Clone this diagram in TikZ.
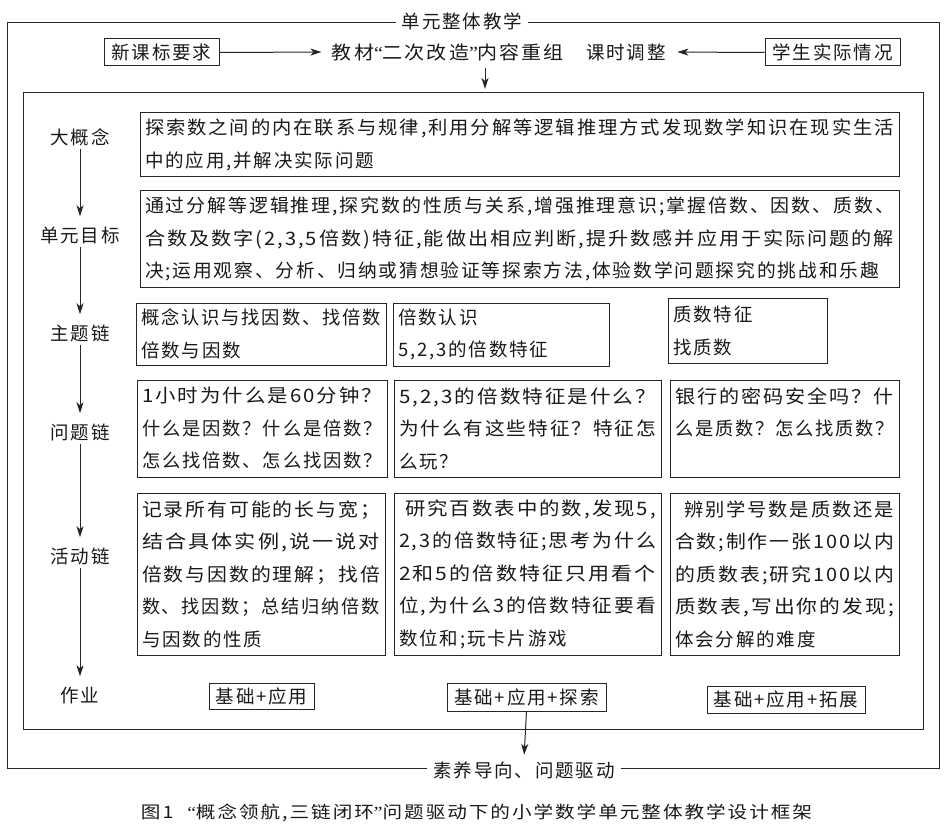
\documentclass[tikz,border=0pt]{standalone}
\usepackage{fontspec}
\setmainfont{Noto Sans CJK SC}[LetterSpace=10]
\newfontfamily\qf{Liberation Serif}
\usetikzlibrary{arrows.meta}
\newcommand{\fl}[2]{\resizebox{#1pt}{\height}{#2}}
\newcommand{\myLq}{{\qf “}}
\newcommand{\myRq}{{\qf ”}}
\newcommand{\bodysize}{\fontsize{18.5}{32.5}\selectfont}
\begin{document}
\begin{tikzpicture}[x=1pt,y=-1pt,
  every node/.style={font=\bodysize, text=black!90},
  frame/.style={line width=1pt, draw=black!85},
  arr/.style={line width=1pt, draw=black!85, -{Stealth[length=11pt,width=7pt,inset=3pt]}},
  bx/.style={draw=black!85, line width=1pt, inner xsep=5pt, inner ysep=0pt, align=left},
  lab/.style={inner sep=2pt},
  hw/.style={draw=black!85, line width=1pt, inner sep=0pt},
  ttl/.style={fill=white, inner xsep=6pt}]
\useasboundingbox (0,0) rectangle (947,834);
% frames
\draw[frame] (7,23) rectangle (939,768);
\draw[frame] (23,93) rectangle (923,729);
\node[ttl] (title) at (462,21) {单元整体教学};
\node[ttl] (goal) at (524,770) {素养导向、问题驱动};
% top row
\node[hw, minimum width=115, minimum height=27] (req) at (161.5,52.5) {新课标要求};
\node (mat) at (448,52) {\fl{232}{教材\myLq 二次改造\myRq 内容重组}};
\node (adj) at (626,52) {课时调整};
\node[hw, minimum width=135, minimum height=27] (stu) at (832.5,52.5) {学生实际情况};
\draw[arr, shorten >=7pt] (req.east) -- (mat.west);
\draw[arr, shorten >=8pt] (stu.west) -- (adj.east);
\coordinate (dtop) at (485,68);
\coordinate (dbot) at (485,89);
\draw[arr] (dtop) -- (dbot);
% labels
\node[lab] (l1) at (80,137) {大概念};
\node[lab] (l2) at (80,235) {单元目标};
\node[lab] (l3) at (80,333) {主题链};
\node[lab] (l4) at (80,432) {问题链};
\node[lab] (l5) at (80,556) {活动链};
\node[lab] (l6) at (80,695) {作业};
\foreach \a/\b in {l1/l2,l2/l3,l3/l4,l4/l5,l5/l6}
  \draw[arr, shorten <=1pt, shorten >=8pt] (\a.south) -- (\b.north);
% big concept
\node[bx, text width=749pt, minimum height=64] (A) at (519.5,145)
  {\fl{749}{探索数之间的内在联系与规律,利用分解等逻辑推理方式发现数学知识在现实生活}\\
   中的应用,并解决实际问题};
% unit goals
\node[bx, text width=749pt, minimum height=96] (B) at (519.5,239)
  {\fl{749}{通过分解等逻辑推理,探究数的性质与关系,增强推理意识;掌握倍数、因数、质数、}\\
   \fl{749}{合数及数字(2,3,5倍数)特征,能做出相应判断,提升数感并应用于实际问题的解}\\
   \fl{734}{决;运用观察、分析、归纳或猜想验证等探索方法,体验数学问题探究的挑战和乐趣}};
% theme chain
\node[bx, text width=240pt, minimum height=62] (T1) at (261,334)
  {\fl{240}{概念认识与找因数、找倍数}\\倍数与因数};
\node[bx, text width=206pt, minimum height=63] (T2) at (501,334.5)
  {倍数认识\\5,2,3的倍数特征};
\node[bx, text width=149pt, minimum height=65] (T3) at (747.5,331)
  {质数特征\\找质数};
% question chain
\node[bx, text width=240pt, minimum height=97] (Q1) at (262,428.5)
  {\fl{240}{1小时为什么是60分钟？}\\
   \fl{240}{什么是因数？什么是倍数？}\\
   \fl{240}{怎么找倍数、怎么找因数？}};
\node[bx, text width=257pt, minimum height=97] (Q2) at (527.5,428.5)
  {\fl{257}{5,2,3的倍数特征是什么？}\\
   \fl{257}{为什么有这些特征？特征怎}\\
   么玩？};
\node[bx, text width=219pt, minimum height=97] (Q3) at (784.5,428.5)
  {\fl{219}{银行的密码安全吗？什}\\
   \fl{219}{么是质数？怎么找质数？}\\
   \phantom{么是}};
% activity chain
\node[bx, text width=238pt, minimum height=162] (C1) at (261,574)
  {\fl{238}{记录所有可能的长与宽；}\\
   \fl{238}{结合具体实例,说一说对}\\
   \fl{238}{倍数与因数的理解；找倍}\\
   \fl{238}{数、找因数；总结归纳倍数}\\
   与因数的性质};
\node[bx, text width=257pt, minimum height=162] (C2) at (527.5,574)
  {\hspace*{6pt}\fl{251}{研究百数表中的数,发现5,}\\
   \fl{257}{2,3的倍数特征;思考为什么}\\
   \fl{257}{2和5的倍数特征只用看个}\\
   \fl{257}{位,为什么3的倍数特征要看}\\
   数位和;玩卡片游戏};
\node[bx, text width=219pt, minimum height=162] (C3) at (784.5,574)
  {\hspace*{9pt}\fl{210}{辨别学号数是质数还是}\\
   \fl{219}{合数;制作一张100以内}\\
   \fl{219}{的质数表;研究100以内}\\
   \fl{219}{质数表,写出你的发现;}\\
   体会分解的难度};
% homework
\node[hw, minimum width=105, minimum height=26] (H1) at (261.5,696) {基础+应用};
\node[hw, minimum width=159, minimum height=28] (H2) at (526.5,697) {基础+应用+探索};
\node[hw, minimum width=158, minimum height=27] (H3) at (786,699.5) {基础+应用+拓展};
\draw[arr, shorten >=3pt] (H2.south) -- (goal.north);
% caption
\node (cap) at (476.5,813) {\fontsize{17}{20}\selectfont\fl{671}{图1\hspace{12pt}\myLq 概念领航,三链闭环\myRq 问题驱动下的小学数学单元整体教学设计框架}};
\end{tikzpicture}
\end{document}
